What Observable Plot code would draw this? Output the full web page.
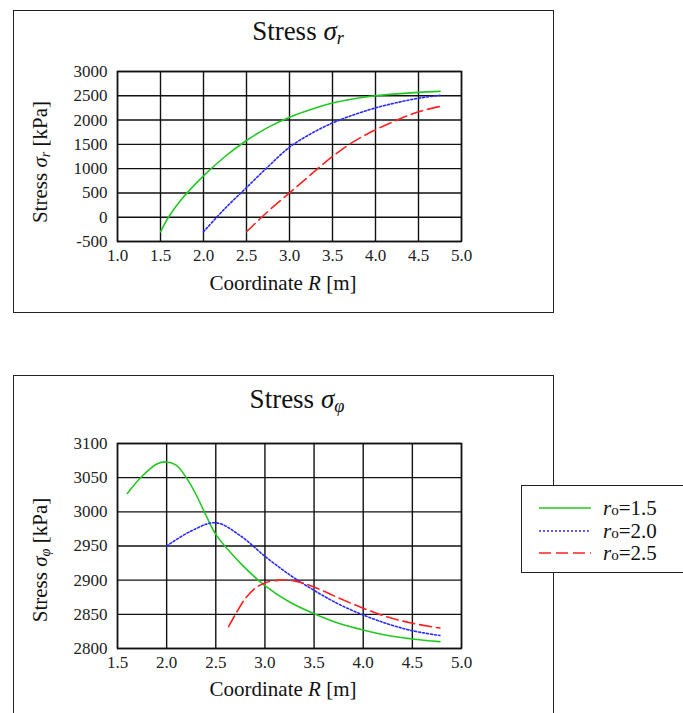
<!DOCTYPE html>
<html><head><meta charset="utf-8">
<script src="https://cdn.jsdelivr.net/npm/d3@7"></script>
<script src="https://cdn.jsdelivr.net/npm/@observablehq/plot@0.6"></script>
<style>
body{margin:0;background:#fff;font-family:"Liberation Serif","Times New Roman",serif;color:#111;}
#page{position:relative;width:683px;height:713px;overflow:hidden;background:#fff;}
.frame{position:absolute;border:1px solid #222;box-sizing:border-box;}
.title{position:absolute;font-size:27px;white-space:nowrap;transform:translate(-50%,-50%);}
.xlab{position:absolute;font-size:21px;white-space:nowrap;transform:translate(-50%,-50%);}
.ylab{position:absolute;font-size:21px;white-space:nowrap;transform:translate(-50%,-50%) rotate(-90deg);}
.chart{position:absolute;left:0;}
.it{font-style:italic;}
.sub{font-style:italic;font-size:68%;position:relative;top:0.2em;}
.legend{position:absolute;left:521px;top:485px;width:200px;height:88px;border:1px solid #222;box-sizing:border-box;background:#fff;}
.lrow{position:absolute;left:0;width:190px;height:20px;line-height:20px;font-size:21px;white-space:nowrap;}
.lrow svg{position:absolute;left:17px;top:4px;}
.lrow span.t{position:absolute;left:81px;top:0px;line-height:20px;}
.osub{font-size:72%;}
</style>
</head><body>
<div id="page">
  <div class="frame" style="left:13px;top:10px;width:541px;height:303px;"></div>
  <div class="frame" style="left:13px;top:375px;width:541px;height:400px;"></div>
  <div class="title" style="left:298px;top:31px;">Stress <span class="it">σ</span><span class="sub">r</span></div>
  <div class="title" style="left:297px;top:399px;">Stress <span class="it">σ</span><span class="sub">φ</span></div>
  <div id="c1" class="chart" style="top:55px;"></div>
  <div id="c2" class="chart" style="top:427px;"></div>
  <div class="xlab" style="left:283px;top:283px;">Coordinate <span class="it">R</span> [m]</div>
  <div class="xlab" style="left:283px;top:689px;">Coordinate <span class="it">R</span> [m]</div>
  <div class="ylab" style="left:40px;top:162px;">Stress <span class="it">σ</span><span class="sub">r</span> [kPa]</div>
  <div class="ylab" style="left:40px;top:560px;">Stress <span class="it">σ</span><span class="sub">φ</span> [kPa]</div>
  <div class="legend" id="legend"></div>
</div>
<script>
// Series labels
const seriesNames = ["r0=1.5", "r0=2.0", "r0=2.5"];
const seriesColors = ["#22c822", "#2a2aff", "#ff2020"];
const seriesDash = ["none", "2,2", "12,5"];

// Stress sigma_r (top chart)
const srR_15 = [1.5, 1.6, 1.75, 2.0, 2.25, 2.5, 2.75, 3.0, 3.25, 3.5, 3.75, 4.0, 4.25, 4.5, 4.75];
const srV_15 = [-300, 20, 380, 850, 1250, 1580, 1850, 2060, 2220, 2350, 2440, 2500, 2540, 2570, 2590];
const srR_20 = [2.0, 2.25, 2.5, 2.75, 3.0, 3.25, 3.5, 3.75, 4.0, 4.25, 4.5, 4.75];
const srV_20 = [-300, 180, 610, 1040, 1440, 1720, 1940, 2110, 2250, 2360, 2450, 2510];
const srR_25 = [2.5, 2.75, 3.0, 3.25, 3.5, 3.75, 4.0, 4.25, 4.5, 4.75];
const srV_25 = [-300, 120, 500, 880, 1250, 1560, 1800, 2000, 2170, 2280];

// Stress sigma_phi (bottom chart)
const spR_15 = [1.6, 1.75, 1.9, 2.0, 2.1, 2.2, 2.3, 2.4, 2.5, 2.75, 3.0, 3.25, 3.5, 3.75, 4.0, 4.25, 4.5, 4.78];
const spV_15 = [3027, 3052, 3070, 3073, 3068, 3050, 3025, 2995, 2967, 2925, 2892, 2868, 2851, 2837, 2827, 2819, 2814, 2810];
const spR_20 = [2.0, 2.25, 2.5, 2.75, 3.0, 3.25, 3.5, 3.75, 4.0, 4.25, 4.5, 4.78];
const spV_20 = [2950, 2972, 2984, 2965, 2935, 2908, 2885, 2865, 2849, 2836, 2826, 2819];
const spR_25 = [2.63, 2.7, 2.8, 2.9, 3.0, 3.15, 3.3, 3.5, 3.75, 4.0, 4.25, 4.5, 4.78];
const spV_25 = [2832, 2850, 2873, 2888, 2896, 2900, 2899, 2890, 2874, 2859, 2846, 2837, 2830];

// Tick values
const xTicksTop = [1.0, 1.5, 2.0, 2.5, 3.0, 3.5, 4.0, 4.5, 5.0];
const yTicksTop = [-500, 0, 500, 1000, 1500, 2000, 2500, 3000];
const xTicksBottom = [1.5, 2.0, 2.5, 3.0, 3.5, 4.0, 4.5, 5.0];
const yTicksBottom = [2800, 2850, 2900, 2950, 3000, 3050, 3100];

function rows(R, V) { return R.map((r, i) => ({x: r, y: V[i]})); }

const serif = "Liberation Serif, Times New Roman, serif";
const plotStyle = {fontSize: "17px", fontFamily: serif, color: "#222", background: "transparent"};

function makeChart(series, xDomain, yDomain, xTicks, yTicks, h, mt, mb) {
  const marks = [
    Plot.gridX(xTicks, {stroke: "#111", strokeOpacity: 1, strokeWidth: 1.4}),
    Plot.gridY(yTicks, {stroke: "#111", strokeOpacity: 1, strokeWidth: 1.4}),
    Plot.frame({stroke: "#111", strokeWidth: 1.5}),
    Plot.axisX(xTicks, {tickSize: 0, tickPadding: 7, tickFormat: d => d.toFixed(1), label: null,
      fontSize: 17, fontFamily: serif, fill: "#222"}),
    Plot.axisY(yTicks, {tickSize: 0, tickPadding: 10, tickFormat: d => String(d), label: null,
      fontSize: 17, fontFamily: serif, fill: "#222"})
  ];
  series.forEach((s, i) => {
    marks.push(Plot.line(s, {x: "x", y: "y", curve: "catmull-rom", stroke: seriesColors[i], strokeWidth: 1.6,
      strokeDasharray: seriesDash[i] === "none" ? undefined : seriesDash[i]}));
  });
  return Plot.plot({
    width: 560, height: h,
    marginLeft: 117, marginRight: 99, marginTop: mt, marginBottom: mb,
    style: plotStyle,
    x: {domain: xDomain},
    y: {domain: yDomain},
    marks
  });
}

const chartTop = makeChart(
  [rows(srR_15, srV_15), rows(srR_20, srV_20), rows(srR_25, srV_25)],
  [1, 5], [-500, 3000], xTicksTop, yTicksTop, 250, 16, 64);
document.getElementById("c1").appendChild(chartTop);

const chartBottom = makeChart(
  [rows(spR_15, spV_15), rows(spR_20, spV_20), rows(spR_25, spV_25)],
  [1.5, 5], [2800, 3100], xTicksBottom, yTicksBottom, 250, 16, 250 - 16 - 205);
document.getElementById("c2").appendChild(chartBottom);

// Legend
const leg = document.getElementById("legend");
const rowTops = [12, 35, 57];
seriesNames.forEach((name, i) => {
  const row = document.createElement("div");
  row.className = "lrow";
  row.style.top = rowTops[i] + "px";
  const dash = seriesDash[i] === "none" ? "" : `stroke-dasharray="${seriesDash[i]}"`;
  const val = name.split("=")[1];
  row.innerHTML = `<svg width="55" height="12"><line x1="0" y1="6" x2="52" y2="6" stroke="${seriesColors[i]}" stroke-width="1.6" ${dash}/></svg>` +
    `<span class="t"><span class="it">r</span><span class="osub">o</span>=${val}</span>`;
  leg.appendChild(row);
});
</script>
</body></html>
